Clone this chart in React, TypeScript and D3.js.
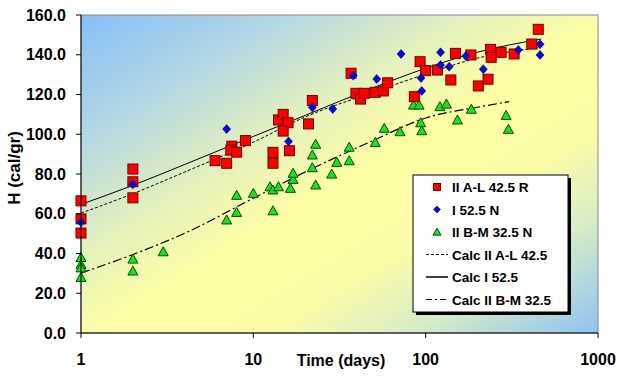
import React from 'react';
import * as d3 from 'd3';

const yTicks = [0, 20, 40, 60, 80, 100, 120, 140, 160];
const xTicks = [1, 10, 100, 1000];

// II A-L 42.5 R (red squares)
const redDays = [1, 1, 1, 2, 2, 2, 6, 7, 7.5, 7.4, 8, 9, 13, 13, 14, 14.9, 15.9, 14.9, 16.2, 20.9, 22, 36.9, 39.4, 41.9, 44, 51, 56.8, 60.2, 86, 92.8, 100, 117, 140, 149, 183, 202, 230, 238, 240, 274, 326, 413, 450];
const redH = [66.5, 57.4, 50.3, 82.5, 76.1, 68, 86.7, 85.4, 94, 92, 91, 96.8, 90.9, 85.4, 107.2, 110, 105.8, 101.6, 91.7, 105.2, 117, 130.7, 120.6, 117.7, 120.6, 121.1, 121.8, 125.9, 118.9, 136.5, 132, 132.3, 127.3, 140.7, 139.9, 124.3, 127.7, 142.7, 138.7, 141.2, 140.4, 145.4, 152.8];

// I 52.5 N (blue diamonds)
const blueDays = [1, 2, 7, 16, 22, 28.9, 38, 52, 72, 94, 94.9, 122, 122, 137, 171, 216, 345, 461, 461];
const blueH = [55.7, 74.8, 102.6, 96.4, 113.5, 112.7, 129.5, 127.8, 140.4, 128.3, 121.8, 141.2, 134.8, 134, 139.4, 132.7, 142.4, 145.3, 139.9];

// II B-M 32.5 N (green triangles)
const greenDays = [1, 1, 1, 1, 2, 2, 3, 7, 8, 8, 10, 12.5, 13, 13, 14, 16.4, 17, 17, 23, 22, 22, 23, 28.5, 30.5, 36, 36, 51, 57.5, 71, 85, 91.6, 93.5, 94.9, 121, 132, 153, 184, 293, 302];
const greenH = [38, 34.5, 32.8, 28, 37.2, 31.2, 40.9, 56.9, 60.7, 69.3, 70.3, 73.6, 72, 61.5, 73.6, 72.8, 77.3, 80.4, 95, 89.6, 83.2, 74.5, 80, 85.9, 86.7, 93.5, 95.9, 103, 101.3, 114.7, 114.7, 105.8, 101.8, 113.9, 115.2, 107.2, 112.6, 109.5, 102.5];

// Calculated curves
const calcALDays = [1, 2, 4, 10, 20, 50, 100, 200, 450];
const calcALH = [60.3, 70.1, 81, 96, 108.7, 121.2, 130.3, 138.3, 143.5];
const calcIDays = [1, 2, 4, 10, 20, 50, 100, 200, 468];
const calcIH = [64.7, 74.3, 84.8, 98.9, 109.5, 123.5, 133.2, 141.3, 147.9];
const calcBMDays = [1, 2, 4, 10, 20, 50, 100, 200, 305];
const calcBMH = [30.2, 39.5, 50.2, 67.8, 81, 97, 108.2, 113.6, 116.4];

const legendLabels = ['II A-L 42.5 R', 'I 52.5 N', 'II B-M 32.5 N', 'Calc II A-L 42.5', 'Calc I 52.5', 'Calc II B-M 32.5'];

const FONT = '"Liberation Sans", Arial, sans-serif';
const RED = '#FF0000';
const RED_STROKE = '#700000';
const BLUE = '#0a0ad0';
const BLUE_STROKE = '#000080';
const GREEN = '#22dd22';
const GREEN_STROKE = '#005000';

const AL_DASH = '3,2';
const BM_DASH = '9,3,2,3';

function Square({ cx, cy, s }: { cx: number; cy: number; s: number }) {
  return <rect x={cx - s / 2} y={cy - s / 2} width={s} height={s} fill={RED} stroke={RED_STROKE} strokeWidth={1} />;
}
function Diamond({ cx, cy, w, h }: { cx: number; cy: number; w: number; h: number }) {
  return <polygon points={`${cx},${cy - h / 2} ${cx + w / 2},${cy} ${cx},${cy + h / 2} ${cx - w / 2},${cy}`} fill={BLUE} stroke={BLUE_STROKE} strokeWidth={0.6} />;
}
function Triangle({ cx, cy, w, h }: { cx: number; cy: number; w: number; h: number }) {
  return <polygon points={`${cx},${cy - h * 0.55} ${cx + w / 2},${cy + h * 0.45} ${cx - w / 2},${cy + h * 0.45}`} fill={GREEN} stroke={GREEN_STROKE} strokeWidth={1} />;
}

export default function App() {
  const left = 81, right = 598, top = 15, bottom = 333;
  const x = d3.scaleLog().domain([1, 1000]).range([left, right]);
  const y = d3.scaleLinear().domain([0, 160]).range([bottom, top]);
  const line = d3.line<[number, number]>().x(d => x(d[0])).y(d => y(d[1])).curve(d3.curveMonotoneX);
  const pts = (ds: number[], hs: number[]) => ds.map((d, i) => [d, hs[i]] as [number, number]);

  const lgX = 413, lgY = 175, lgW = 155, lgH = 137;
  const rowY = (i: number) => 187 + i * 22.5;

  return (
    <svg width={624} height={381} style={{ position: 'absolute', left: 0, top: 0, background: '#fff' }} fontFamily={FONT}>
      <defs>
        <linearGradient id="bg" x1="0" y1="0" x2="1" y2="1">
          <stop offset="0" stopColor="#86bff8" />
          <stop offset="0.2" stopColor="#b4d8e4" />
          <stop offset="0.38" stopColor="#e6f2bc" />
          <stop offset="0.52" stopColor="#ffffa4" />
          <stop offset="0.68" stopColor="#fcfca8" />
          <stop offset="0.82" stopColor="#d6ecc8" />
          <stop offset="1" stopColor="#8ec2f2" />
        </linearGradient>
      </defs>
      <rect x={left} y={top} width={right - left} height={bottom - top} fill="url(#bg)" stroke="#888" strokeWidth={1} />

      {/* Calc lines */}
      <path d={line(pts(calcALDays, calcALH)) || ''} fill="none" stroke="#000" strokeWidth={1} strokeDasharray={AL_DASH} />
      <path d={line(pts(calcIDays, calcIH)) || ''} fill="none" stroke="#000" strokeWidth={1} />
      <path d={line(pts(calcBMDays, calcBMH)) || ''} fill="none" stroke="#000" strokeWidth={1.2} strokeDasharray={BM_DASH} />

      {/* markers */}
      {greenDays.map((d, i) => <Triangle key={'g' + i} cx={x(d)} cy={y(greenH[i])} w={10} h={9} />)}
      {redDays.map((d, i) => <Square key={'r' + i} cx={x(d)} cy={y(redH[i])} s={10} />)}
      {blueDays.map((d, i) => <Diamond key={'b' + i} cx={x(d)} cy={y(blueH[i])} w={8} h={9} />)}

      {/* axes */}
      <line x1={left} y1={top} x2={left} y2={bottom} stroke="#000" strokeWidth={1} />
      <line x1={left} y1={bottom} x2={right} y2={bottom} stroke="#000" strokeWidth={1} />
      {yTicks.map(t => (
        <g key={'yt' + t}>
          <line x1={left - 5} x2={left} y1={y(t)} y2={y(t)} stroke="#000" />
          <text x={66} y={y(t) + 5.5} textAnchor="end" fontSize={16} fontWeight="bold" fill="#000">{t.toFixed(1)}</text>
        </g>
      ))}
      {xTicks.map(t => (
        <g key={'xt' + t}>
          <line x1={x(t)} x2={x(t)} y1={bottom} y2={bottom + 5} stroke="#000" />
          <text x={x(t)} y={365} textAnchor="middle" fontSize={16} fontWeight="bold" fill="#000">{t}</text>
        </g>
      ))}
      <text x={341} y={366} textAnchor="middle" fontSize={16} fontWeight="bold" fill="#000">Time (days)</text>
      <text transform="translate(20,168) rotate(-90)" textAnchor="middle" fontSize={17} fontWeight="bold" fill="#000">H  (cal/gr)</text>

      {/* legend */}
      <rect x={lgX + 3} y={lgY + 3} width={lgW} height={lgH} fill="#000" />
      <rect x={lgX} y={lgY} width={lgW} height={lgH} fill="#fff" stroke="#000" strokeWidth={1} />
      <Square cx={437} cy={rowY(0)} s={7} />
      <Diamond cx={437} cy={rowY(1)} w={7} h={7} />
      <Triangle cx={437} cy={rowY(2)} w={8} h={7} />
      <line x1={426} x2={448} y1={rowY(3)} y2={rowY(3)} stroke="#000" strokeDasharray={AL_DASH} />
      <line x1={426} x2={448} y1={rowY(4)} y2={rowY(4)} stroke="#000" strokeWidth={1.5} />
      <line x1={426} x2={448} y1={rowY(5)} y2={rowY(5)} stroke="#000" strokeDasharray="6,3,2,3" />
      {legendLabels.map((l, i) => (
        <text key={'l' + i} x={452} y={rowY(i) + 5} fontSize={13.5} fontWeight="bold" fill="#000">{l}</text>
      ))}
    </svg>
  );
}
